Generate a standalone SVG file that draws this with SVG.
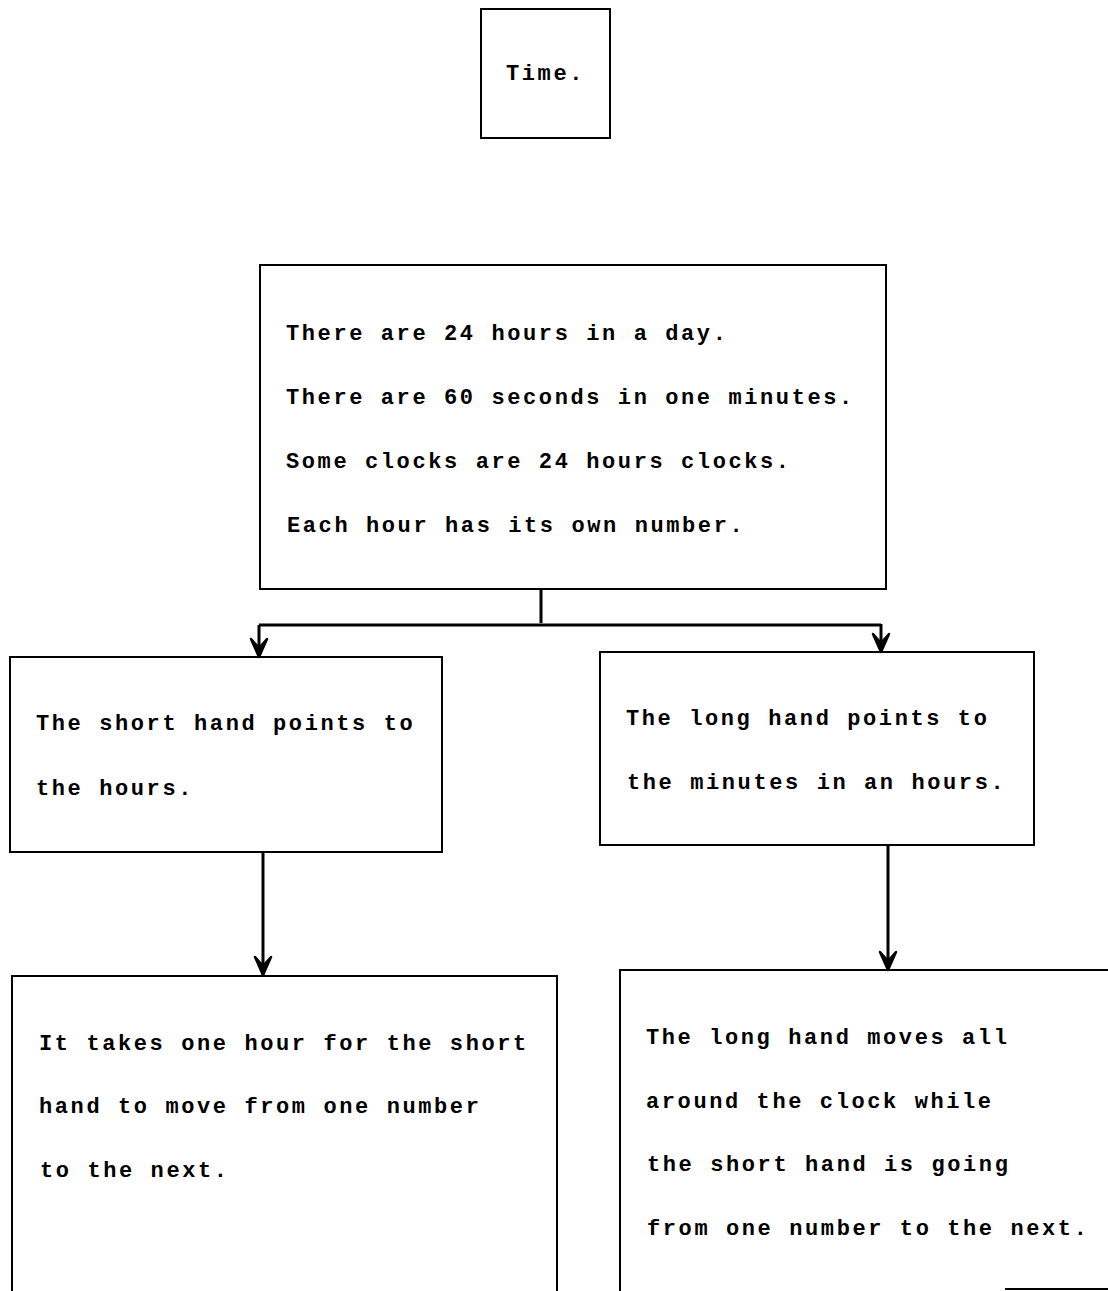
<svg xmlns="http://www.w3.org/2000/svg" width="1108" height="1291" viewBox="0 0 1108 1291">
<style>
.box{fill:none;stroke:#000;stroke-width:2}
.t{font-family:"Liberation Mono","Courier New",monospace;font-size:22px;font-weight:bold;letter-spacing:2.6px;fill:#000}
.c{fill:none;stroke:#000;stroke-width:3}
</style>
<defs>
<marker id="ah" markerUnits="userSpaceOnUse" markerWidth="22" markerHeight="20" refX="20" refY="10" orient="auto" viewBox="0 0 22 20">
<path d="M2,2 L20,10 L2,18 L11,10 Z" fill="#000" stroke="#000" stroke-width="2.5" stroke-linejoin="round"/>
</marker>
</defs>
<rect width="1108" height="1291" fill="#fff"/>
<g id="n-time">
<rect class="box" x="481" y="9" width="129" height="129"/>
<text class="t" x="506" y="80">Time.</text>
</g>
<g id="n-main">
<rect class="box" x="260" y="265" width="626" height="324"/>
<text class="t" x="286" y="340">There are 24 hours in a day.</text>
<text class="t" x="286" y="404">There are 60 seconds in one minutes.</text>
<text class="t" x="286" y="468">Some clocks are 24 hours clocks.</text>
<text class="t" x="287" y="532">Each hour has its own number.</text>
</g>
<g id="n-short">
<rect class="box" x="10" y="657" width="432" height="195"/>
<text class="t" x="36" y="730">The short hand points to</text>
<text class="t" x="36" y="795">the hours.</text>
</g>
<g id="n-long">
<rect class="box" x="600" y="652" width="434" height="193"/>
<text class="t" x="626" y="725">The long hand points to</text>
<text class="t" x="627" y="789">the minutes in an hours.</text>
</g>
<g id="n-short-detail">
<path class="box" d="M12,1291 V976 H557 V1291"/>
<text class="t" x="39" y="1050">It takes one hour for the short</text>
<text class="t" x="39" y="1113">hand to move from one number</text>
<text class="t" x="40" y="1177">to the next.</text>
</g>
<g id="n-long-detail">
<path class="box" d="M620,1291 V970 H1108"/>
<path class="box" d="M1005,1289 H1108"/>
<text class="t" x="646" y="1044">The long hand moves all</text>
<text class="t" x="646" y="1108">around the clock while</text>
<text class="t" x="647" y="1171">the short hand is going</text>
<text class="t" x="647" y="1235">from one number to the next.</text>
</g>
<g id="connectors">
<path class="c" d="M541,589 V623"/>
<path class="c" d="M259,625 H881"/>
<path class="c" d="M259,625 V657" marker-end="url(#ah)"/>
<path class="c" d="M881,624 V652" marker-end="url(#ah)"/>
<path class="c" d="M263,852 V975" marker-end="url(#ah)"/>
<path class="c" d="M888,845 V970" marker-end="url(#ah)"/>
</g>
</svg>
